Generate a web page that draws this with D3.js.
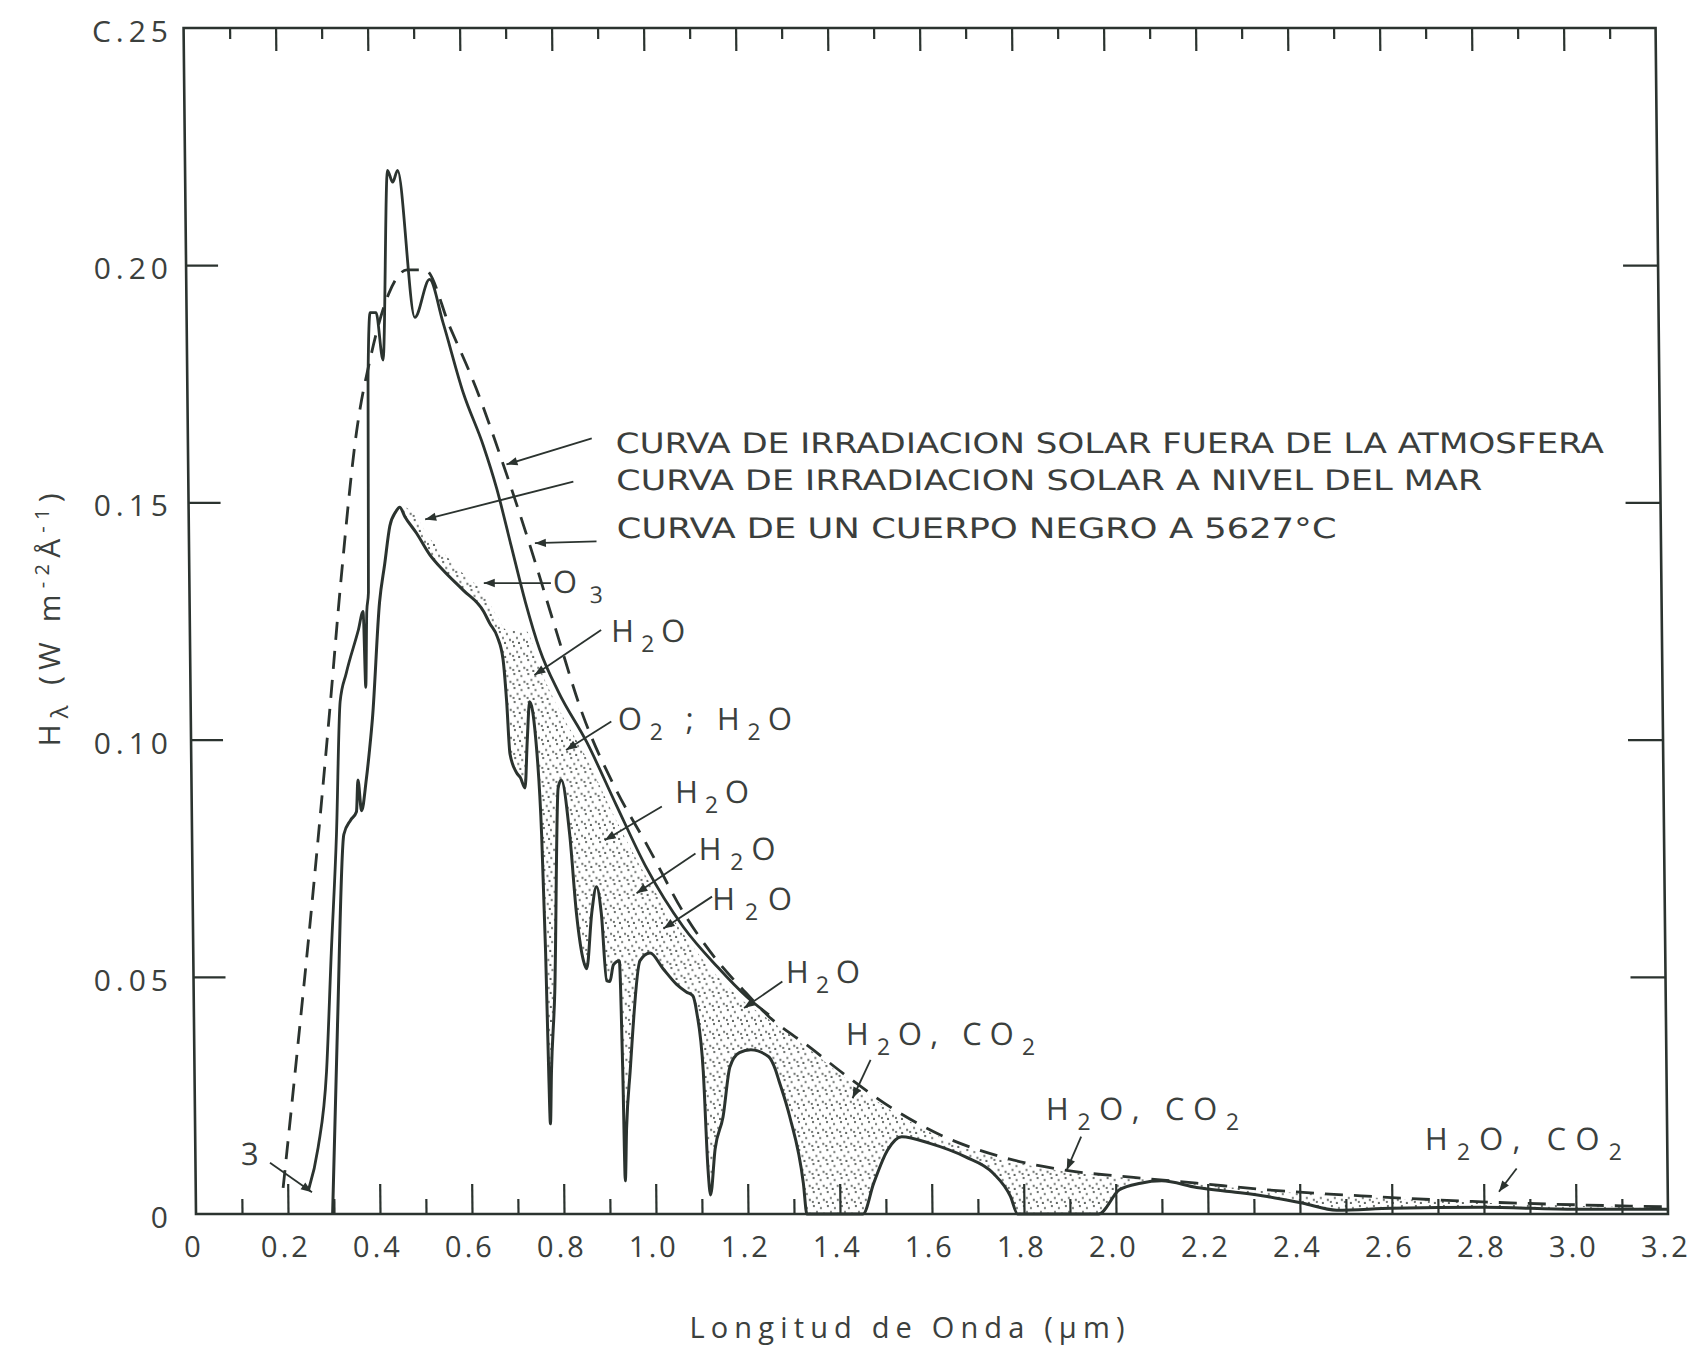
<!DOCTYPE html>
<html>
<head>
<meta charset="utf-8">
<script src="https://cdn.jsdelivr.net/npm/d3@7"></script>
<style>
  body { margin: 0; background: #fff; }
  svg { display: block; }
  .lbl { font-family: "Open Sans", "DejaVu Sans", sans-serif; fill: #3b403d; }
  .leg { font-family: "Liberation Sans Narrow", "DejaVu Sans Condensed", "Liberation Sans", sans-serif; fill: #3b3e3c; }
</style>
</head>
<body>
<div id="chart"></div>
<script>
// [wavelength (um), irradiance (W m-2 A-1)]
var outsideAtm = [[0.245,0.005],[0.267,0.014],[0.287,0.030],[0.300,0.055],[0.314,0.080],[0.325,0.108],
  [0.339,0.114],[0.366,0.123],[0.377,0.127],[0.381,0.111],[0.385,0.127],[0.389,0.131],[0.393,0.176],
  [0.399,0.190],[0.412,0.190],[0.426,0.180],[0.440,0.220],[0.451,0.2175],[0.462,0.220],[0.496,0.189],
  [0.529,0.197],[0.557,0.188],[0.600,0.173],[0.642,0.162],[0.670,0.153],[0.700,0.141],[0.730,0.129],
  [0.760,0.119],[0.800,0.110],[0.860,0.0995],[0.923,0.0862],[0.987,0.0730],[1.066,0.0605],[1.140,0.052],
  [1.202,0.0458],[1.250,0.042]];

var seaLevel = [[0.297,0],[0.312,0.040],[0.330,0.080],[0.345,0.083],[0.358,0.0848],[0.362,0.0915],
  [0.369,0.085],[0.380,0.0915],[0.388,0.098],[0.395,0.1046],[0.413,0.129],[0.425,0.137],[0.437,0.145],
  [0.450,0.148],[0.459,0.149],[0.470,0.147],[0.495,0.1435],[0.523,0.139],[0.552,0.1357],[0.595,0.1315],
  [0.639,0.127],[0.652,0.1245],[0.668,0.1217],[0.680,0.117],[0.687,0.108],[0.693,0.097],[0.707,0.093],
  [0.715,0.092],[0.725,0.0898],[0.731,0.100],[0.737,0.108],[0.749,0.1006],[0.760,0.080],[0.766,0.055],
  [0.770,0.030],[0.7725,0.019],[0.776,0.030],[0.785,0.0468],[0.797,0.0898],[0.804,0.0915],[0.821,0.080],
  [0.834,0.0633],[0.848,0.0534],[0.855,0.0517],[0.867,0.0633],[0.878,0.069],[0.888,0.0633],[0.898,0.0492],
  [0.905,0.049],[0.913,0.0525],[0.926,0.0534],[0.931,0.030],[0.934,0.007],[0.938,0.018],[0.947,0.030],
  [0.971,0.0534],[0.993,0.055],[1.021,0.0517],[1.050,0.0484],[1.071,0.0468],[1.085,0.046],[1.093,0.0426],
  [1.106,0.030],[1.114,0.0096],[1.119,0.004],[1.130,0.0137],[1.148,0.0205],[1.164,0.031],[1.185,0.034],
  [1.210,0.0346],[1.248,0.0332],[1.263,0.0304],[1.270,0.0282],[1.293,0.0205],[1.321,0.0065],[1.328,0],
  [1.450,0],[1.474,0.0065],[1.505,0.0135],[1.536,0.0163],[1.597,0.0149],[1.673,0.0121],[1.734,0.0086],
  [1.771,0.0037],[1.786,0],[1.962,0],[2.008,0.0051],[2.054,0.0065],[2.100,0.0070],[2.176,0.0056],
  [2.252,0.0047],[2.329,0.0037],[2.405,0.0023],[2.480,0.0008],[2.600,0.0012],[2.800,0.0014],
  [3.000,0.0010],[3.200,0.0010]];

var blackBody = [[0.19,0.0055],[0.22,0.031],[0.262,0.068],[0.30,0.104],[0.33,0.134],[0.367,0.165],
  [0.40,0.181],[0.44,0.194],[0.48,0.199],[0.52,0.199],[0.572,0.187],[0.628,0.174],[0.685,0.158],
  [0.741,0.141],[0.793,0.124],[0.853,0.105],[0.92,0.090],[0.991,0.0774],[1.07,0.063],[1.138,0.0535],
  [1.195,0.0472],[1.249,0.0417],[1.34,0.035],[1.416,0.0292],[1.522,0.0219],[1.628,0.0163],[1.75,0.0121],
  [1.887,0.0093],[2.039,0.0077],[2.176,0.0065],[2.329,0.0051],[2.557,0.0037],[2.786,0.0026],
  [3.015,0.0019],[3.2,0.0015]];

// upper edge of the stippled (absorbed) band
var absorbTop = [[0.465,0.1495],[0.495,0.147],[0.523,0.1425],[0.552,0.1395],[0.595,0.135],[0.639,0.131],
  [0.668,0.126],[0.690,0.123],[0.730,0.123],[0.760,0.115],[0.800,0.1065],[0.860,0.096],[0.920,0.0835],
  [0.990,0.0705],[1.070,0.0585],[1.140,0.050],[1.200,0.0445],[1.250,0.041],[1.340,0.0345],[1.416,0.0285],
  [1.522,0.0213],[1.628,0.0158],[1.750,0.0117],[1.887,0.009],[2.039,0.0075],[2.176,0.0063],
  [2.329,0.0049],[2.557,0.0035],[2.786,0.0024],[3.015,0.0017],[3.200,0.0013]];

var xTicks = [0,0.2,0.4,0.6,0.8,1.0,1.2,1.4,1.6,1.8,2.0,2.2,2.4,2.6,2.8,3.0,3.2];
var xTickLabels = ["0","0.2","0.4","0.6","0.8","1.0","1.2","1.4","1.6","1.8","2.0","2.2","2.4","2.6","2.8","3.0","3.2"];
var xMinor = [0.1,0.3,0.5,0.7,0.9,1.1,1.3,1.5,1.7,1.9,2.1,2.3,2.5,2.7,2.9,3.1];
var yTicks = [0,0.05,0.10,0.15,0.20,0.25];
var yTickLabels = ["0","0.05","0.10","0.15","0.20","C.25"];

var legendLines = ["CURVA DE IRRADIACION SOLAR FUERA DE LA ATMOSFERA",
                   "CURVA DE IRRADIACION SOLAR A NIVEL DEL MAR",
                   "CURVA DE UN CUERPO NEGRO A 5627°C"];

// layout of the labels: anchor / arrow ends in data units
var legendLayout = [
  {at:[0.93,0.1604], w:988, from:[0.878,0.1635], to:[0.692,0.158]},
  {at:[0.93,0.1526], w:866, from:[0.837,0.1544], to:[0.514,0.1464]},
  {at:[0.93,0.1425], w:720, from:[0.886,0.1418], to:[0.752,0.1414]}
];
var notes = [
  {parts:[["O",0],["3",1]], at:[0.79,0.1309], w:50, from:[0.786,0.133], to:[0.64,0.133]},
  {parts:[["H",0],["2",1],["O",0]], at:[0.916,0.1206], w:74, from:[0.894,0.1231], to:[0.748,0.1136]},
  {parts:[["O",0],["2",1],[" ; H",0],["2",1],["O",0]], at:[0.9285,0.102], w:174, from:[0.914,0.1038], to:[0.815,0.0978]},
  {parts:[["H",0],["2",1],["O",0]], at:[1.051,0.0866], w:74, from:[1.022,0.0859], to:[0.897,0.0788]},
  {parts:[["H",0],["2",1],["O",0]], at:[1.101,0.0746], w:77, from:[1.094,0.076], to:[0.965,0.0676]},
  {parts:[["H",0],["2",1],["O",0]], at:[1.129,0.0641], w:80, from:[1.129,0.0669], to:[1.023,0.0602]},
  {parts:[["H",0],["2",1],["O",0]], at:[1.288,0.0487], w:74, from:[1.28,0.049], to:[1.196,0.0434]},
  {parts:[["H",0],["2",1],["O, CO",0],["2",1]], at:[1.417,0.0356], w:189, from:[1.47,0.0325], to:[1.43,0.0244]},
  {parts:[["H",0],["2",1],["O, CO",0],["2",1]], at:[1.85,0.0198], w:193, from:[1.926,0.0163], to:[1.894,0.0093]},
  {parts:[["H",0],["2",1],["O, CO",0],["2",1]], at:[2.673,0.0135], w:197, from:[2.872,0.0096], to:[2.833,0.0047]},
  {parts:[["3",0]], at:[0.099,0.0103], w:20, from:[0.162,0.0108], to:[0.2526,0.0046]}
];

var W = 1701, H = 1371, ink = "#2b332f";

var x = d3.scaleLinear().domain([0, 3.2]).range([196, 1668]);
var y = d3.scaleLinear().domain([0, 0.25]).range([1214, 28]);

var svg = d3.select("#chart").append("svg").attr("width", W).attr("height", H);
svg.append("rect").attr("width", W).attr("height", H).attr("fill", "#fff");

var defs = svg.append("defs");
var pat = defs.append("pattern").attr("id", "dots").attr("patternUnits", "userSpaceOnUse")
    .attr("width", 14).attr("height", 14);
[[2,2],[9,4],[5,8],[12,10],[1,12],[7,13]].forEach(function (p) {
  pat.append("circle").attr("cx", p[0]).attr("cy", p[1]).attr("r", 1.05).attr("fill", "#4a504c");
});
defs.append("marker").attr("id", "arr").attr("viewBox", "0 0 10 10")
    .attr("refX", 10).attr("refY", 5).attr("markerWidth", 13).attr("markerHeight", 11)
    .attr("markerUnits", "userSpaceOnUse").attr("orient", "auto")
  .append("path").attr("d", "M0,1.2L10,5L0,8.8Z").attr("fill", ink);

// the scan is slightly sheared: frame leans left towards the top
var g = svg.append("g").attr("transform", "translate(0,1214) skewX(0.6) translate(0,-1214)");

var curve = d3.curveMonotoneX;
var line = d3.line().x(function (d) { return x(d[0]); }).y(function (d) { return y(d[1]); }).curve(curve);

defs.append("clipPath").attr("id", "absorbClip").append("path")
    .attr("d", d3.area().x(function (d) { return x(d[0]); }).y0(y(0)).y1(function (d) { return y(d[1]); }).curve(curve)(absorbTop));

g.append("path")
    .attr("d", d3.area().x(function (d) { return x(d[0]); }).y0(y(0.25)).y1(function (d) { return y(d[1]); }).curve(curve)(seaLevel))
    .attr("fill", "url(#dots)")
    .attr("clip-path", "url(#absorbClip)");

g.append("path").attr("d", line(blackBody)).attr("fill", "none").attr("stroke", ink)
    .attr("stroke-width", 2.8).attr("stroke-dasharray", "18,11");
g.append("path").attr("d", line(outsideAtm)).attr("fill", "none").attr("stroke", ink)
    .attr("stroke-width", 2.8).attr("stroke-linejoin", "round");
g.append("path").attr("d", line(seaLevel)).attr("fill", "none").attr("stroke", ink)
    .attr("stroke-width", 3).attr("stroke-linejoin", "round");

// frame
g.append("rect").attr("x", x(0)).attr("y", y(0.25)).attr("width", x(3.2) - x(0)).attr("height", y(0) - y(0.25))
    .attr("fill", "none").attr("stroke", ink).attr("stroke-width", 2.6);

function ticks(axis, tx, ty) {
  var a = g.append("g").attr("transform", "translate(" + tx + "," + ty + ")").call(axis);
  a.select(".domain").remove();
  a.selectAll("line").attr("stroke", ink).attr("stroke-width", 2.2);
  return a;
}
var inner = xTicks.slice(1, -1);
ticks(d3.axisTop(x).tickValues(inner).tickSize(30).tickFormat(""), 0, y(0));
ticks(d3.axisTop(x).tickValues(xMinor).tickSize(15).tickFormat(""), 0, y(0));
ticks(d3.axisBottom(x).tickValues(inner).tickSize(23).tickFormat(""), 0, y(0.25));
ticks(d3.axisBottom(x).tickValues(xMinor).tickSize(11).tickFormat(""), 0, y(0.25));
ticks(d3.axisRight(y).tickValues(yTicks.slice(1, -1)).tickSize(32).tickFormat(""), x(0), 0);
ticks(d3.axisLeft(y).tickValues(yTicks.slice(1, -1)).tickSize(35).tickFormat(""), x(3.2), 0);

// tick labels
var xl = g.append("g").attr("transform", "translate(0," + y(0) + ")")
    .call(d3.axisBottom(x).tickValues(xTicks).tickSize(0).tickPadding(22)
      .tickFormat(function (d, i) { return xTickLabels[i]; }));
xl.select(".domain").remove();
xl.attr("font-family", null).attr("font-size", null);
xl.selectAll("text").attr("class", "lbl").attr("font-size", 29).attr("letter-spacing", 3).attr("dx", -3);

var yl = svg.append("g").attr("transform", "translate(175,0)")
    .call(d3.axisLeft(y).tickValues(yTicks).tickSize(0).tickPadding(2)
      .tickFormat(function (d, i) { return yTickLabels[i]; }));
yl.select(".domain").remove();
yl.attr("font-family", null).attr("font-size", null);
yl.selectAll("text").attr("class", "lbl").attr("font-size", 30).attr("letter-spacing", 5).attr("dy", "0.45em");

// legend
legendLines.forEach(function (t, i) {
  var L = legendLayout[i];
  g.append("text").attr("class", "leg").attr("x", x(L.at[0])).attr("y", y(L.at[1]))
      .attr("font-size", 28).attr("textLength", L.w).attr("lengthAdjust", "spacingAndGlyphs").text(t);
  g.append("line").attr("x1", x(L.from[0])).attr("y1", y(L.from[1]))
      .attr("x2", x(L.to[0])).attr("y2", y(L.to[1]))
      .attr("stroke", ink).attr("stroke-width", 1.8).attr("marker-end", "url(#arr)");
});

// gas labels
notes.forEach(function (n) {
  var t = g.append("text").attr("class", "lbl").attr("x", x(n.at[0])).attr("y", y(n.at[1]))
      .attr("font-size", 31).attr("textLength", n.w).attr("lengthAdjust", "spacing");
  var low = false;
  n.parts.forEach(function (p) {
    var s = t.append("tspan").text(p[0]);
    if (p[1]) { s.attr("font-size", 23).attr("dy", low ? 0 : 10); low = true; }
    else { s.attr("dy", low ? -10 : 0); low = false; }
  });
  g.append("line").attr("x1", x(n.from[0])).attr("y1", y(n.from[1]))
      .attr("x2", x(n.to[0])).attr("y2", y(n.to[1]))
      .attr("stroke", ink).attr("stroke-width", 1.8).attr("marker-end", "url(#arr)");
});

// axis titles
svg.append("text").attr("class", "lbl").attr("x", 907).attr("y", 1338).attr("text-anchor", "middle")
    .attr("font-size", 29).attr("textLength", 435).attr("lengthAdjust", "spacing")
    .text("Longitud de Onda (μm)");

var yt = svg.append("text").attr("class", "lbl").attr("text-anchor", "middle")
    .attr("transform", "translate(60,620) rotate(-90)").attr("font-size", 30)
    .attr("textLength", 253).attr("lengthAdjust", "spacing");
yt.append("tspan").text("H");
yt.append("tspan").text("λ").attr("font-size", 24).attr("dy", 8);
yt.append("tspan").text(" (W m").attr("dy", -8);
yt.append("tspan").text("-2").attr("font-size", 20).attr("dy", -11);
yt.append("tspan").text("Å").attr("dy", 11);
yt.append("tspan").text("-1").attr("font-size", 20).attr("dy", -11);
yt.append("tspan").text(")").attr("dy", 11);
</script>
</body>
</html>
